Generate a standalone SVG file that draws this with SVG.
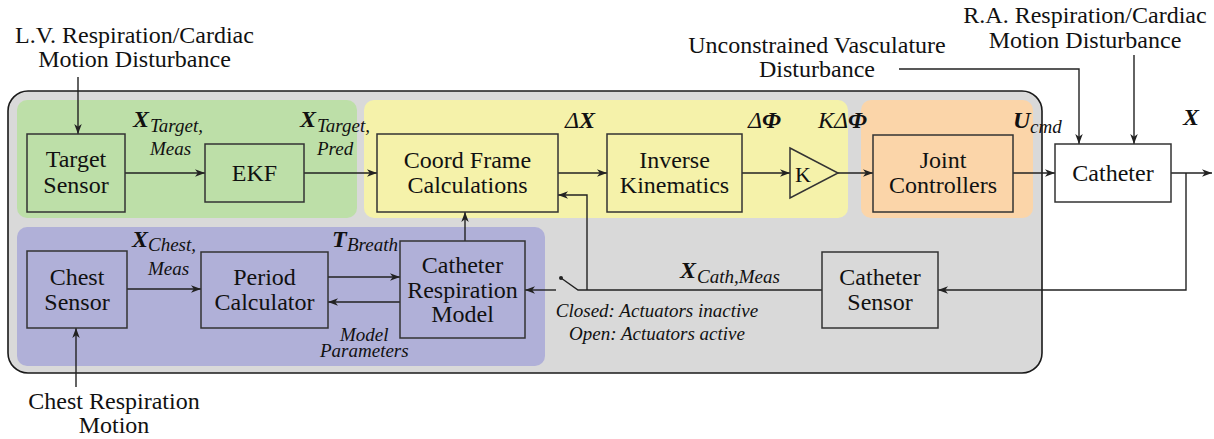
<svg xmlns="http://www.w3.org/2000/svg" width="1214" height="439" viewBox="0 0 1214 439" font-family="'Liberation Serif', 'Times New Roman', serif">
<style>
svg text, text.t, text.it, text.bx, tspan{font-family:"Liberation Serif","Times New Roman",serif !important}
text{fill:#111}
.t{font-size:24px;text-anchor:middle}
.it{font-style:italic;font-size:19px}
.bx{font-style:italic;font-weight:bold;font-size:24px}
.g{font-style:italic;font-size:24px}
.box{stroke:#333;stroke-width:1.5}
.ln{fill:none;stroke:#222;stroke-width:1.4}
</style>
<defs>
<marker id="a" markerUnits="userSpaceOnUse" markerWidth="11" markerHeight="8" refX="10" refY="3.75" orient="auto">
<path d="M0,0 L10,3.75 L0,7.5 L2.8,3.75 z" fill="#222"/>
</marker>
</defs>
<g id="regions">
<rect x="8" y="91" width="1034" height="282" rx="20" fill="#d9d9d9" stroke="#1a1a1a" stroke-width="1.6"/>
<rect x="17" y="100" width="340" height="118" rx="10" fill="#bddfa8"/>
<rect x="364" y="100" width="484" height="118" rx="10" fill="#f5f2aa"/>
<rect x="861" y="100" width="172" height="118" rx="10" fill="#fbd5a9"/>
<rect x="17" y="227" width="528" height="139" rx="10" fill="#b0b0d8"/>
</g>
<g id="connectors">
<path class="ln" d="M78,77 V134" marker-end="url(#a)"/>
<path class="ln" d="M125,173 H205" marker-end="url(#a)"/>
<path class="ln" d="M304,173 H377" marker-end="url(#a)"/>
<path class="ln" d="M558,173 H607" marker-end="url(#a)"/>
<path class="ln" d="M742,173 H790" marker-end="url(#a)"/>
<path class="ln" d="M838,173 H873" marker-end="url(#a)"/>
<path class="ln" d="M1013,173 H1055" marker-end="url(#a)"/>
<path class="ln" d="M1171,173 H1212" marker-end="url(#a)"/>
<path class="ln" d="M899,69 H1079 V144" marker-end="url(#a)"/>
<path class="ln" d="M1134,55 V144" marker-end="url(#a)"/>
<path class="ln" d="M1186,173 V290 H938" marker-end="url(#a)"/>
<path class="ln" d="M822,290 H578 L561,278"/>
<circle cx="561" cy="278" r="2" fill="#222"/>
<path class="ln" d="M556,290 H525" marker-end="url(#a)"/>
<path class="ln" d="M587,290 V195 H558" marker-end="url(#a)"/>
<path class="ln" d="M465,241 V212" marker-end="url(#a)"/>
<path class="ln" d="M127,289 H201" marker-end="url(#a)"/>
<path class="ln" d="M328,277 H400" marker-end="url(#a)"/>
<path class="ln" d="M400,302 H328" marker-end="url(#a)"/>
<path class="ln" d="M76,387 V328" marker-end="url(#a)"/>
</g>
<g id="target-sensor">
<rect class="box" x="27" y="134" width="98" height="78" fill="#bddfa8"/>
<text class="t" x="76" y="167">Target</text>
<text class="t" x="76" y="193">Sensor</text>
</g>
<g id="ekf">
<rect class="box" x="205" y="144" width="99" height="58" fill="#bddfa8"/>
<text class="t" x="254.5" y="181">EKF</text>
</g>
<g id="coord-frame">
<rect class="box" x="377" y="134" width="181" height="78" fill="#f5f2aa"/>
<text class="t" x="467.5" y="168">Coord Frame</text>
<text class="t" x="467.5" y="193">Calculations</text>
</g>
<g id="inverse-kinematics">
<rect class="box" x="607" y="134" width="135" height="78" fill="#f5f2aa"/>
<text class="t" x="674.5" y="168">Inverse</text>
<text class="t" x="674.5" y="193">Kinematics</text>
</g>
<g id="gain-k">
<path class="box" d="M790,148 L838,173 L790,198 Z" fill="#f5f2aa"/>
<text class="t" x="803" y="182" style="font-size:22px">K</text>
</g>
<g id="joint-controllers">
<rect class="box" x="873" y="135" width="140" height="77" fill="#fbd5a9"/>
<text class="t" x="943" y="168">Joint</text>
<text class="t" x="943" y="193">Controllers</text>
</g>
<g id="catheter">
<rect class="box" x="1055" y="144" width="116" height="58" fill="#ffffff"/>
<text class="t" x="1113" y="181">Catheter</text>
</g>
<g id="chest-sensor">
<rect class="box" x="27" y="251" width="100" height="77" fill="#b0b0d8"/>
<text class="t" x="77" y="285">Chest</text>
<text class="t" x="77" y="310">Sensor</text>
</g>
<g id="period-calculator">
<rect class="box" x="201" y="252" width="127" height="76" fill="#b0b0d8"/>
<text class="t" x="264.5" y="285">Period</text>
<text class="t" x="264.5" y="310">Calculator</text>
</g>
<g id="catheter-respiration-model">
<rect class="box" x="400" y="241" width="125" height="97" fill="#b0b0d8"/>
<text class="t" x="462.5" y="273">Catheter</text>
<text class="t" x="462.5" y="298">Respiration</text>
<text class="t" x="462.5" y="322">Model</text>
</g>
<g id="catheter-sensor">
<rect class="box" x="822" y="252" width="116" height="76" fill="#d9d9d9"/>
<text class="t" x="880" y="285">Catheter</text>
<text class="t" x="880" y="310">Sensor</text>
</g>
<g id="labels">
<text class="t" x="134.5" y="43">L.V. Respiration/Cardiac</text>
<text class="t" x="134.5" y="67">Motion Disturbance</text>
<text class="t" x="1085" y="23">R.A. Respiration/Cardiac</text>
<text class="t" x="1085" y="48">Motion Disturbance</text>
<text class="t" x="817" y="53">Unconstrained Vasculature</text>
<text class="t" x="817" y="77">Disturbance</text>
<text class="t" x="114" y="409">Chest Respiration</text>
<text class="t" x="114" y="433">Motion</text>
<text class="bx" x="133" y="127">X</text>
<text class="it" x="150" y="132">Target,</text>
<text class="it" x="150" y="155">Meas</text>
<text class="bx" x="300" y="127">X</text>
<text class="it" x="317" y="132">Target,</text>
<text class="it" x="317" y="155">Pred</text>
<text x="565" y="128"><tspan class="g">Δ</tspan><tspan class="bx">X</tspan></text>
<text x="748" y="128"><tspan class="g">Δ</tspan><tspan class="bx">Φ</tspan></text>
<text x="818" y="128"><tspan class="g">KΔ</tspan><tspan class="bx">Φ</tspan></text>
<text class="bx" x="1013" y="128">U</text>
<text class="it" x="1030" y="133">cmd</text>
<text class="bx" x="1183" y="125">X</text>
<text class="bx" x="132" y="247">X</text>
<text class="it" x="148" y="251">Chest,</text>
<text class="it" x="148" y="275">Meas</text>
<text class="bx" x="332" y="247">T</text>
<text class="it" x="347" y="251">Breath</text>
<text class="it" x="340" y="341">Model</text>
<text class="it" x="320" y="357">Parameters</text>
<text class="bx" x="680" y="278">X</text>
<text class="it" x="697" y="283">Cath,Meas</text>
<text class="it" x="657" y="317" text-anchor="middle">Closed: Actuators inactive</text>
<text class="it" x="657" y="340" text-anchor="middle">Open: Actuators active</text>
</g>
</svg>
